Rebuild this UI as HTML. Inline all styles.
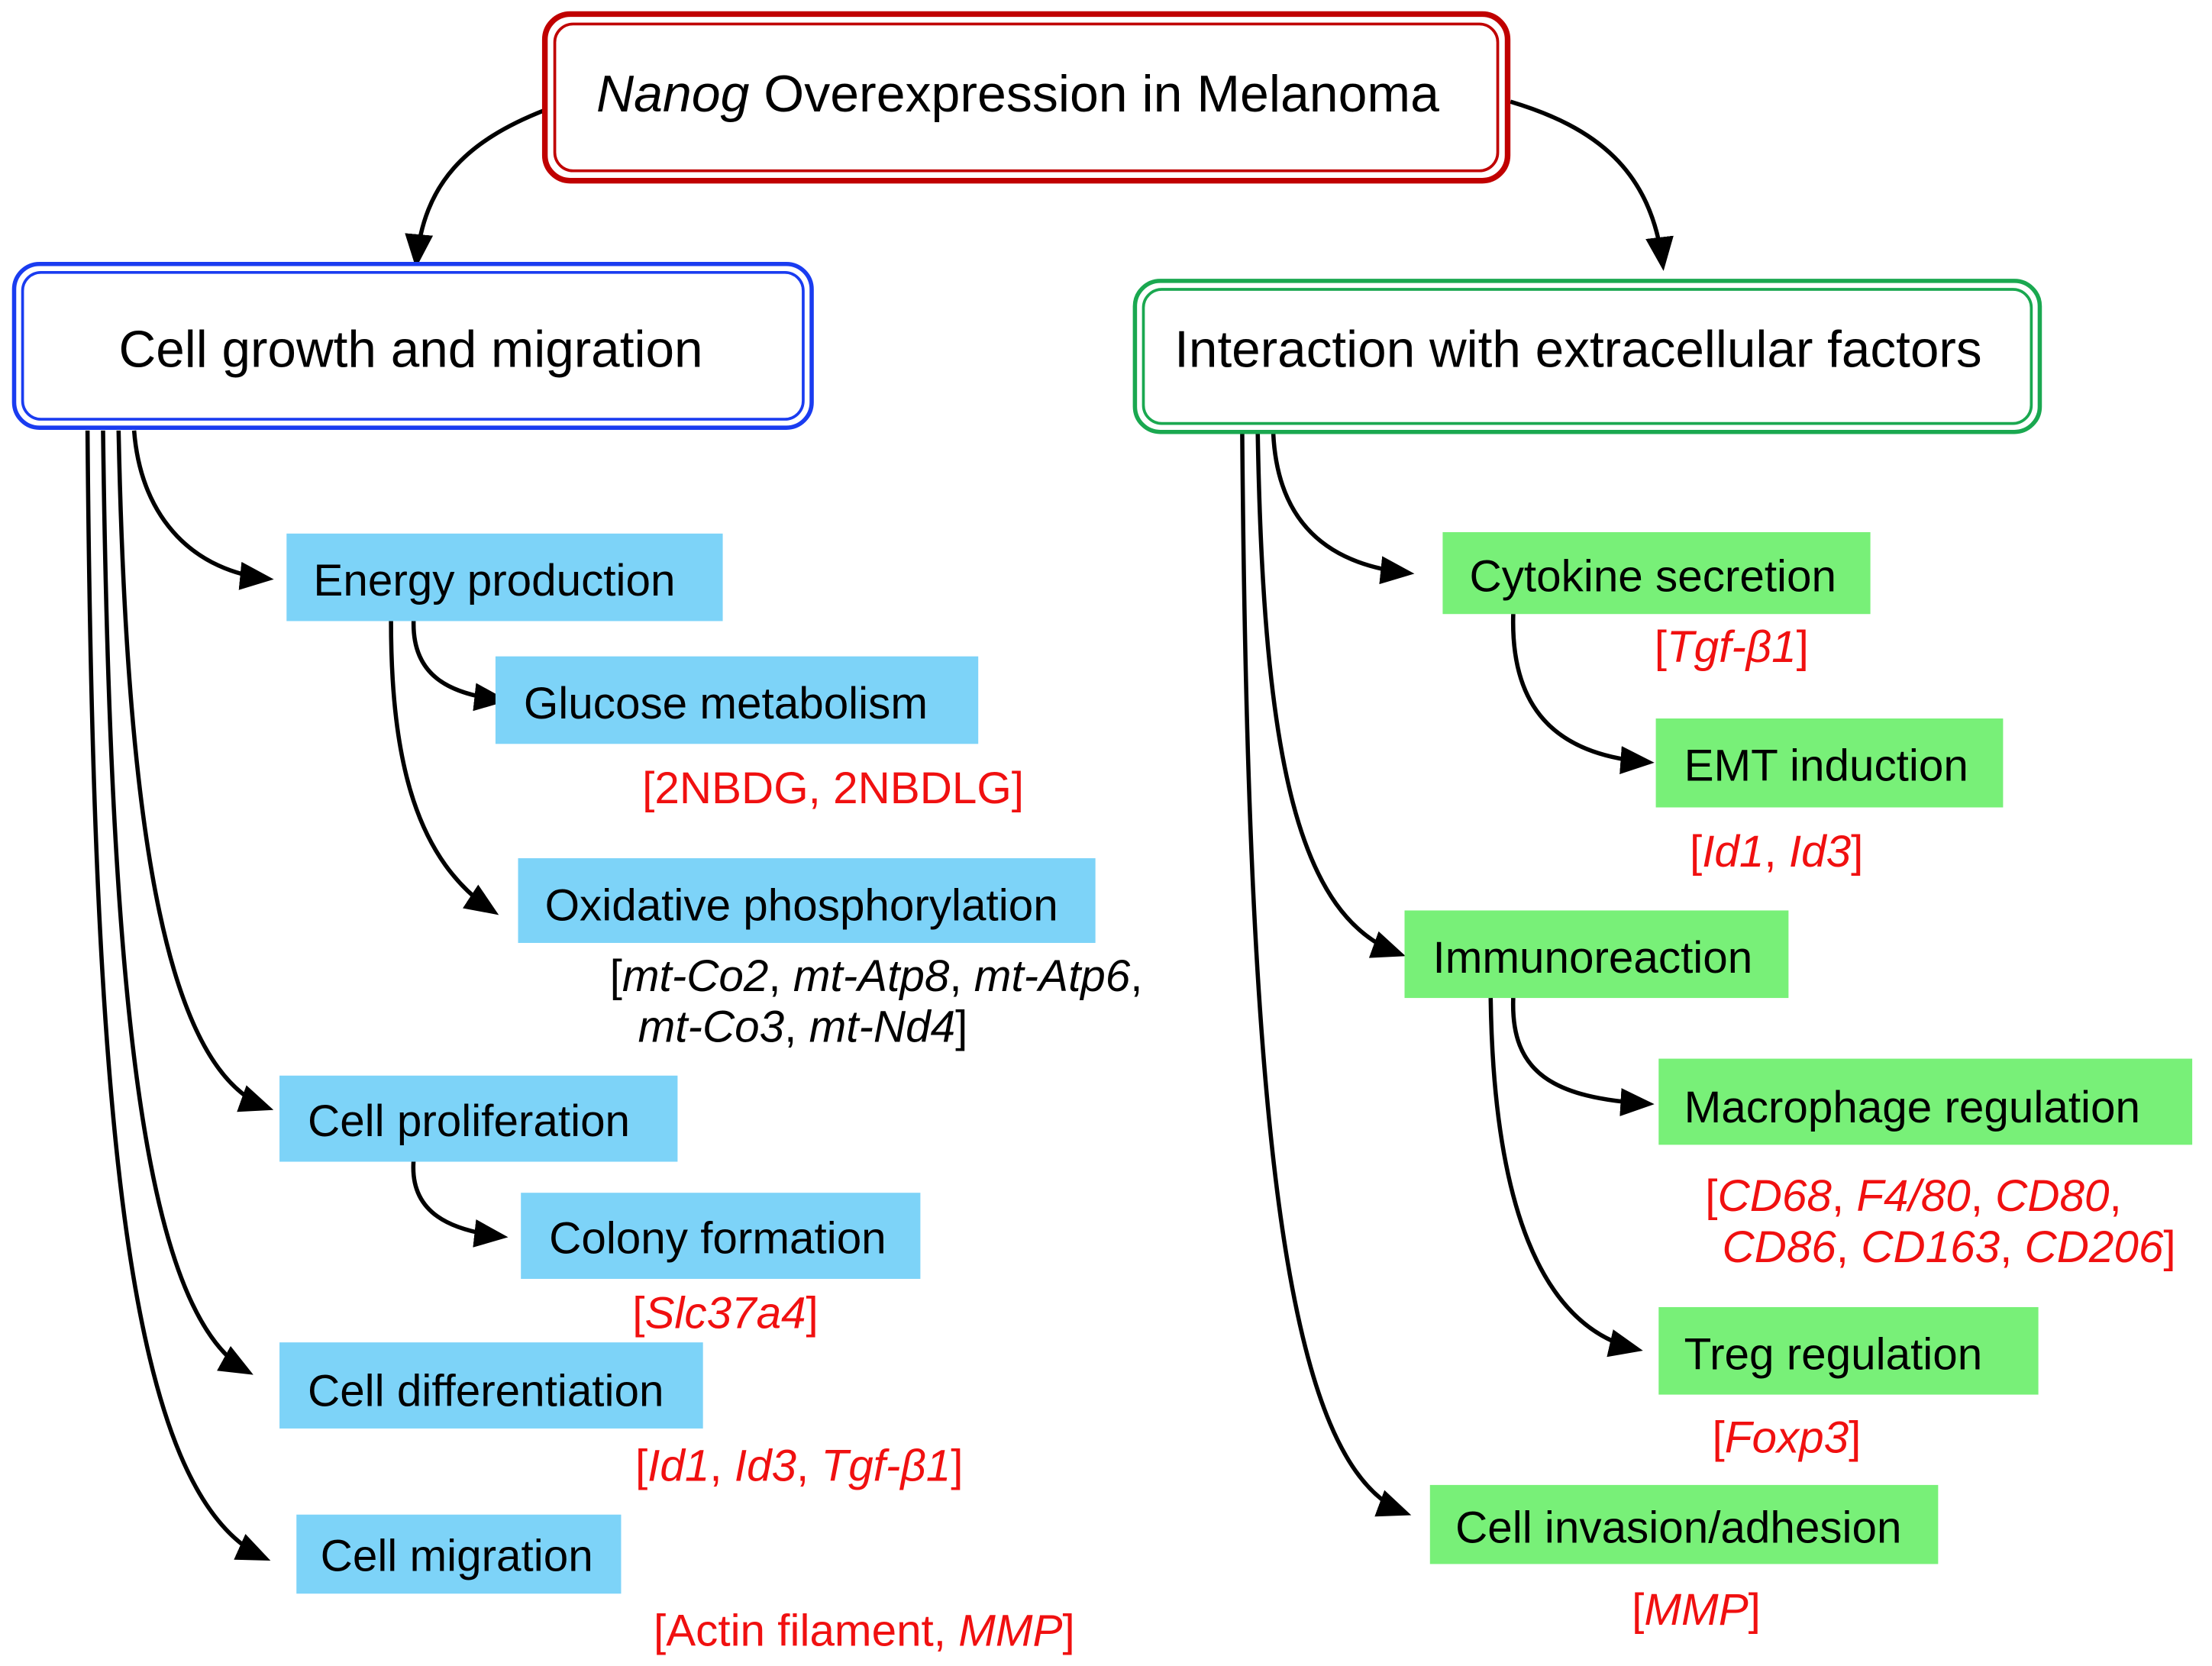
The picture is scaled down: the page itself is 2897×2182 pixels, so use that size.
<!DOCTYPE html>
<html><head><meta charset="utf-8"><style>
html,body{margin:0;padding:0;background:#fff;}
svg{display:block}
text{font-family:"Liberation Sans",Arial,sans-serif;}
</style></head><body>
<svg width="2897" height="2182" viewBox="0 0 1567 1180.2" preserveAspectRatio="xMinYMin meet" xmlns="http://www.w3.org/2000/svg">
<defs>
<marker id="b" markerWidth="24" markerHeight="24" refX="20" refY="12" orient="auto" markerUnits="userSpaceOnUse" viewBox="0 0 24 24">
<path d="M0,2 L24,12 L0,22 z" fill="#000"/></marker>
</defs>
<g fill="none" stroke="#000" stroke-width="3">
<path d="M386,78 C330,100 300,130 295,186" marker-end="url(#b)"/>
<path d="M1070,72 C1130,90 1170,120 1178,188" marker-end="url(#b)"/>
<path d="M95,305 C100,370 140,405 190,410" marker-end="url(#b)"/>
<path d="M84,305 C90,600 120,760 190,785" marker-end="url(#b)"/>
<path d="M73,305 C78,700 100,930 176,972" marker-end="url(#b)"/>
<path d="M62,305 C66,800 90,1060 188,1104" marker-end="url(#b)"/>
<path d="M293,440 C292,480 320,492 356,496" marker-end="url(#b)"/>
<path d="M277,440 C277,540 295,610 350,646" marker-end="url(#b)"/>
<path d="M293,822 C290,860 320,872 356,876" marker-end="url(#b)"/>
<path d="M902,307 C905,370 940,400 998,406" marker-end="url(#b)"/>
<path d="M891,307 C895,540 920,650 992,676" marker-end="url(#b)"/>
<path d="M880,307 C884,800 910,1040 996,1072" marker-end="url(#b)"/>
<path d="M1072,435 C1070,500 1100,535 1168,540" marker-end="url(#b)"/>
<path d="M1072,707 C1070,760 1100,778 1168,782" marker-end="url(#b)"/>
<path d="M1056,707 C1058,850 1090,940 1160,956" marker-end="url(#b)"/>
</g>
<rect x="386" y="10" width="682" height="118" rx="18" fill="#fff" stroke="#c00000" stroke-width="4"/>
<rect x="393" y="17" width="668" height="104" rx="13" fill="none" stroke="#c00000" stroke-width="2"/>
<text x="721" y="79" font-size="36.8" text-anchor="middle"><tspan font-style="italic">Nanog</tspan> Overexpression in Melanoma</text>
<rect x="10" y="187" width="565" height="116" rx="18" fill="#fff" stroke="#1a3cf0" stroke-width="3"/>
<rect x="16" y="193" width="553" height="104" rx="13" fill="none" stroke="#1a3cf0" stroke-width="2"/>
<text x="291" y="260" font-size="36.5" text-anchor="middle">Cell growth and migration</text>
<rect x="804" y="199" width="641" height="107" rx="18" fill="#fff" stroke="#1aa850" stroke-width="3"/>
<rect x="810" y="205" width="629" height="95" rx="13" fill="none" stroke="#1aa850" stroke-width="2"/>
<text x="1118" y="260" font-size="36.5" text-anchor="middle">Interaction with extracellular factors</text>
<g fill="#7dd3f8">
<rect x="203" y="378" width="309" height="62"/>
<rect x="351" y="465" width="342" height="62"/>
<rect x="367" y="608" width="409" height="60"/>
<rect x="198" y="762" width="282" height="61"/>
<rect x="369" y="845" width="283" height="61"/>
<rect x="198" y="951" width="300" height="61"/>
<rect x="210" y="1073" width="230" height="56"/>
</g>
<g fill="#78f078">
<rect x="1022" y="377" width="303" height="58"/>
<rect x="1173" y="509" width="246" height="63"/>
<rect x="995" y="645" width="272" height="62"/>
<rect x="1175" y="750" width="378" height="61"/>
<rect x="1175" y="926" width="269" height="62"/>
<rect x="1013" y="1052" width="360" height="56"/>
</g>
<g font-size="31.6">
<text x="222" y="422">Energy production</text>
<text x="371" y="509">Glucose metabolism</text>
<text x="386" y="652">Oxidative phosphorylation</text>
<text x="218" y="805">Cell proliferation</text>
<text x="389" y="888">Colony formation</text>
<text x="218" y="996">Cell differentiation</text>
<text x="227" y="1113">Cell migration</text>
<text x="1041" y="419">Cytokine secretion</text>
<text x="1193" y="553">EMT induction</text>
<text x="1015" y="689">Immunoreaction</text>
<text x="1193" y="795">Macrophage regulation</text>
<text x="1193" y="970">Treg regulation</text>
<text x="1031" y="1093">Cell invasion/adhesion</text>
</g>
<g font-size="31.6" fill="#f01010">
<text x="455" y="569">[2NBDG, 2NBDLG]</text>
<text x="448" y="941">[<tspan font-style="italic">Slc37a4</tspan>]</text>
<text x="450" y="1049">[<tspan font-style="italic">Id1</tspan>, <tspan font-style="italic">Id3</tspan>, <tspan font-style="italic">Tgf-β1</tspan>]</text>
<text x="463" y="1166">[Actin filament, <tspan font-style="italic">MMP</tspan>]</text>
<text x="1172" y="469">[<tspan font-style="italic">Tgf-β1</tspan>]</text>
<text x="1197" y="614">[<tspan font-style="italic">Id1</tspan>, <tspan font-style="italic">Id3</tspan>]</text>
<text x="1208" y="858">[<tspan font-style="italic">CD68</tspan>, <tspan font-style="italic">F4/80</tspan>, <tspan font-style="italic">CD80</tspan>,</text>
<text x="1220" y="894"><tspan font-style="italic">CD86</tspan>, <tspan font-style="italic">CD163</tspan>, <tspan font-style="italic">CD206</tspan>]</text>
<text x="1213" y="1029">[<tspan font-style="italic">Foxp3</tspan>]</text>
<text x="1156" y="1151">[<tspan font-style="italic">MMP</tspan>]</text>
</g>
<g font-size="31.6">
<text x="432" y="702">[<tspan font-style="italic">mt-Co2</tspan>, <tspan font-style="italic">mt-Atp8</tspan>, <tspan font-style="italic">mt-Atp6</tspan>,</text>
<text x="452" y="738"><tspan font-style="italic">mt-Co3</tspan>, <tspan font-style="italic">mt-Nd4</tspan>]</text>
</g>
</svg>
</body></html>
